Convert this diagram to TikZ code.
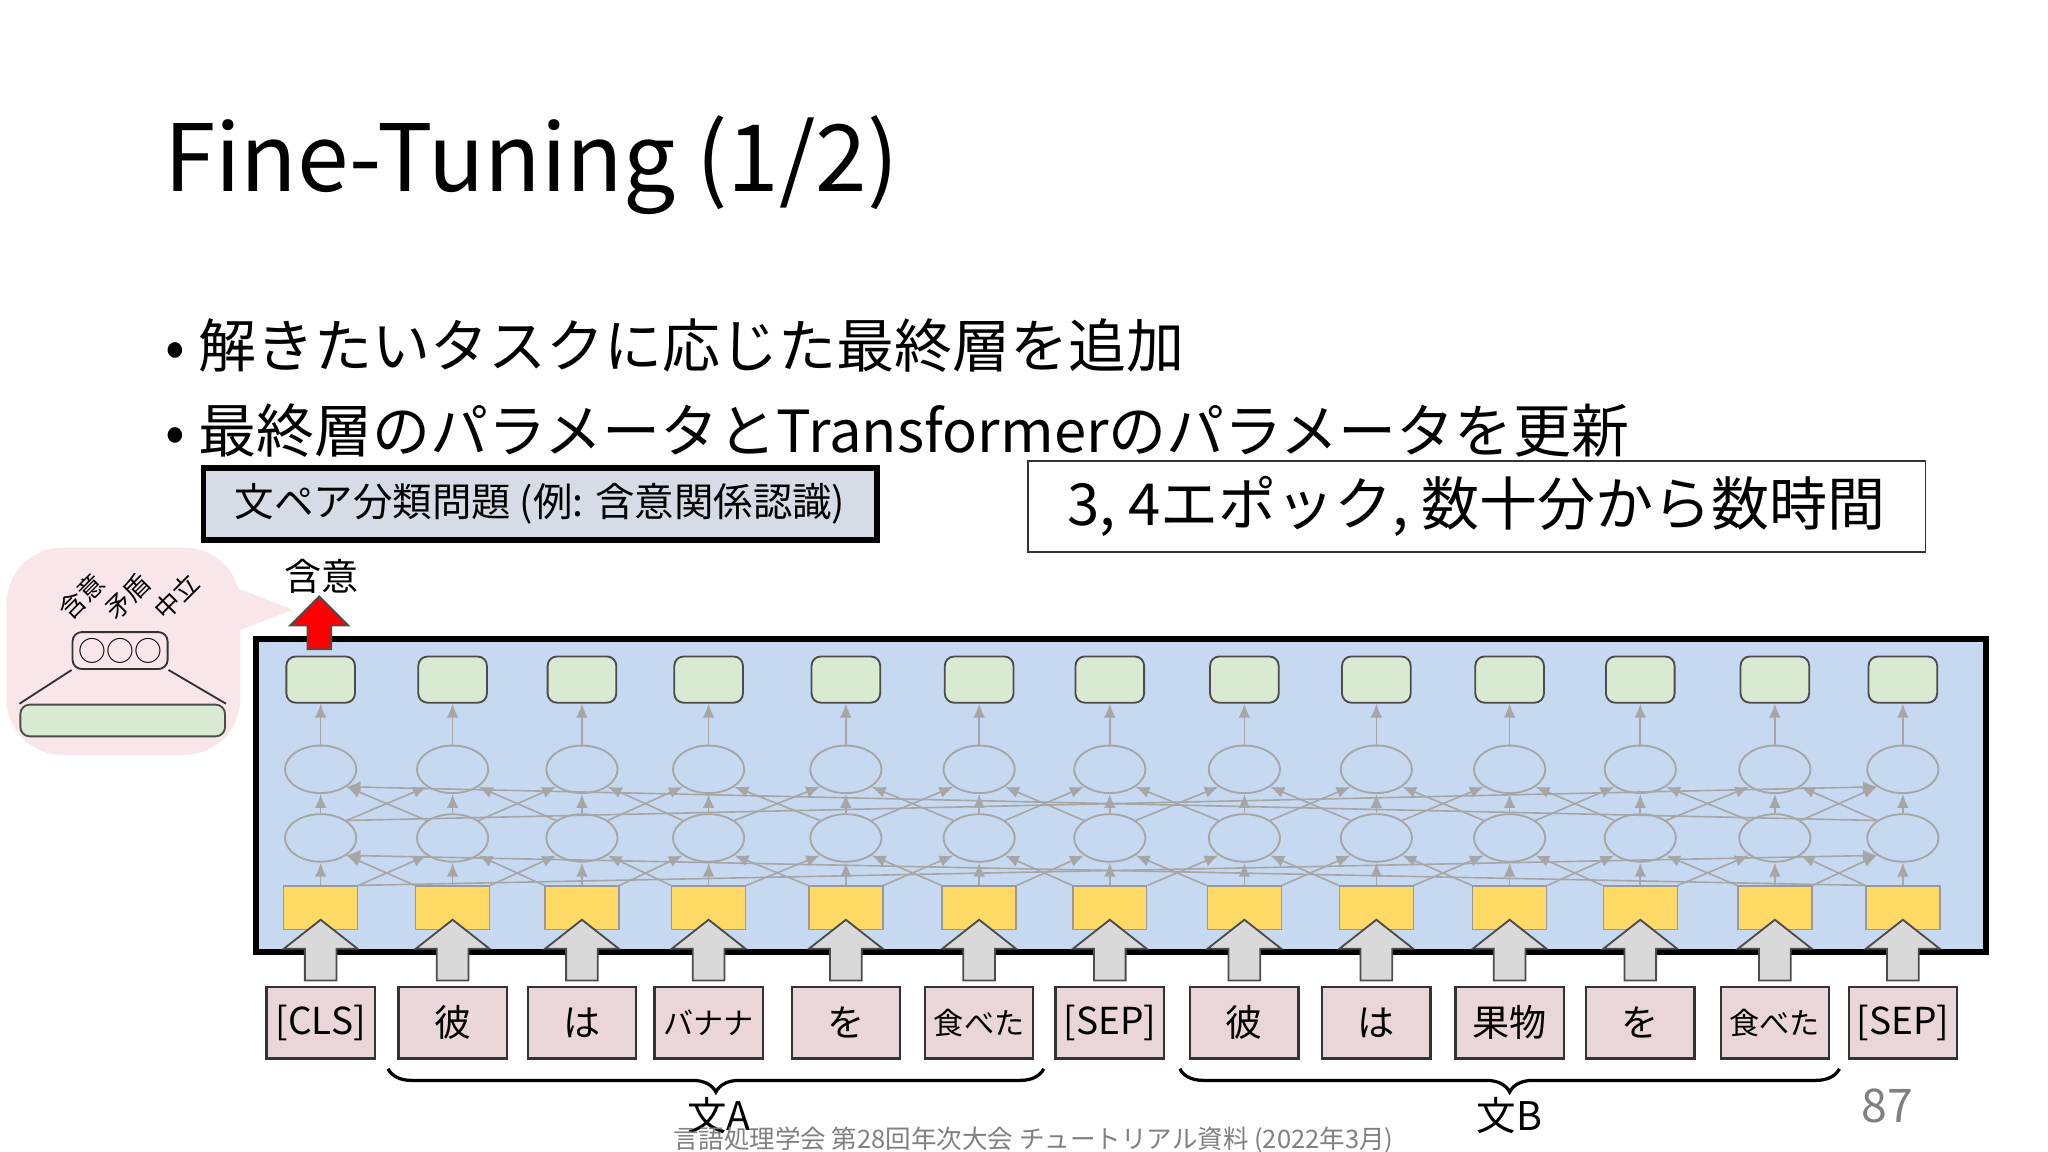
\documentclass[tikz,border=0pt]{standalone}
\usepackage{fontspec}
\setmainfont{Noto Sans CJK JP}
\usetikzlibrary{shapes.geometric,decorations.pathreplacing,arrows.meta,calc}
\definecolor{blk}{RGB}{198,217,241}
\definecolor{gr}{RGB}{217,234,211}
\definecolor{ye}{RGB}{255,217,102}
\definecolor{tk}{RGB}{234,214,216}
\definecolor{bb}{RGB}{249,230,232}
\definecolor{tb}{RGB}{214,220,229}
\begin{document}
\begin{tikzpicture}[x=0.01cm,y=-0.01cm,
 green/.style={draw=black!70,fill=gr,rounded corners=2pt,minimum width=0.52cm,minimum height=0.35cm,line width=0.4pt},
 yel/.style={draw=black!40,fill=ye,minimum width=0.56cm,minimum height=0.33cm,line width=0.3pt},
 ell/.style={draw=gray!70,ellipse,minimum width=0.54cm,minimum height=0.36cm,line width=0.4pt},
 tok/.style={draw=black!80,fill=tk,minimum width=0.82cm,minimum height=0.54cm,inner sep=1pt,font=\fontsize{8}{8}\selectfont,line width=0.5pt},
 uparrow/.style={draw=black!70,fill=black!15,line width=0.4pt},
 thin/.style={draw=gray!70,line width=0.35pt,-{Latex[length=3pt,width=2.5pt]}}]
\useasboundingbox (0,0) rectangle (1552,873);
\fill[white] (0,0) rectangle (1552,873);
\node[anchor=west,font=\fontsize{20}{20}\selectfont] (title) at (112,125) {Fine-Tuning (1/2)};
\node[anchor=west,font=\fontsize{12.5}{12.5}\selectfont] (b1) at (113,262) {• 解きたいタスクに応じた最終層を追加};
\node[anchor=west,font=\fontsize{12.5}{12.5}\selectfont] (b2) at (113,326) {• 最終層のパラメータとTransformerのパラメータを更新};
\node[draw=black,line width=1.2pt,fill=tb,anchor=west,font=\fontsize{8.5}{8.5}\selectfont,minimum width=5.1cm,minimum height=0.5cm] (task) at (152,382) {文ペア分類問題 (例: 含意関係認識)};
\node[draw=black!80,anchor=west,font=\fontsize{12.5}{12.5}\selectfont,minimum width=6.8cm,minimum height=0.64cm] (ep) at (778,384) {3, 4エポック, 数十分から数時間};
% bubble
\fill[bb,rounded corners=12pt] (5,415) rectangle (182,572);
\fill[bb] (165,440) -- (222,462) -- (175,480) -- cycle;
\node[green,minimum width=1.55cm,minimum height=0.24cm] (bfl) at (93,546) {};
\node[draw=black!80,rounded corners=2pt,fill=bb,minimum width=0.72cm,minimum height=0.28cm,inner sep=0pt,font=\fontsize{6}{6}\selectfont] (bo) at (91,493) {○○○};
\draw[black!80,line width=0.4pt] (bo.south west) -- (bfl.north west) (bo.south east) -- (bfl.north east);
\foreach \t/\x in {含意/62,矛盾/97,中立/134} \node[rotate=45,font=\fontsize{5.5}{5.5}\selectfont] at (\x,452) {\t};
% main block
\node[draw=black,line width=1.2pt,fill=blk,minimum width=13.1cm,minimum height=2.37cm,anchor=north west,inner sep=0pt] (blk) at (192,482) {};
\coordinate (ra) at (242,492);
\draw[draw=black!70,fill=red,line width=0.4pt] ($(ra)+(-9,0)$) -- ++(0,-18) -- ++(-13,0) -- ++(22,-22) -- ++(22,22) -- ++(-13,0) -- ++(0,18) -- cycle;
\node[font=\fontsize{8}{8}\selectfont] (lab) at (244,437) {含意};
\def\cols{243/{[CLS]},343/彼,441/は,537/バナナ,641/を,742/食べた,841/{[SEP]},943/彼,1043/は,1144/果物,1243/を,1345/食べた,1442/{[SEP]}}
\foreach[count=\i] \x/\t in \cols {
 \node[green] (g\i) at (\x,515) {};
 \node[ell] (e\i) at (\x,583) {};
 \node[ell] (f\i) at (\x,635) {};
 \node[yel] (y\i) at (\x,688) {};
 \node[tok] (t\i) at (\x,775) {\ifnum\i=4 \fontsize{6.5}{6.5}\selectfont\fi\ifnum\i=6 \fontsize{6.5}{6.5}\selectfont\fi\ifnum\i=12 \fontsize{6.5}{6.5}\selectfont\fi\t};
 \coordinate (u\i) at (\x,743);
 \draw[uparrow] ($(u\i)+(-12,0)$) -- ++(0,-24) -- ++(-16,0) -- ++(28,-22) -- ++(28,22) -- ++(-16,0) -- ++(0,24) -- cycle;
 \draw[thin] (e\i) -- (g\i);
 \draw[thin] (f\i) -- (e\i);
 \draw[thin] (y\i) -- (f\i);
}
\foreach \i/\j in {1/2,2/3,3/4,4/5,5/6,6/7,7/8,8/9,9/10,10/11,11/12,12/13} {
 \draw[thin] (f\i.north east) -- (e\j.south west);
 \draw[thin] (f\j.north west) -- (e\i.south east);
 \draw[thin] (y\i.north east) -- (f\j.south west);
 \draw[thin] (y\j.north west) -- (f\i.south east);
}
\draw[thin] (f1.north east) -- (e13.south west);
\draw[thin] (f13.north west) -- (e1.south east);
\draw[thin] (y1.north east) -- (f13.south west);
\draw[thin] (y13.north west) -- (f1.south east);
\draw[decorate,decoration={brace,mirror,amplitude=5pt},line width=0.7pt] ([xshift=-2pt,yshift=-2pt]t2.south west) -- ([xshift=2pt,yshift=-2pt]t6.south east);
\draw[decorate,decoration={brace,mirror,amplitude=5pt},line width=0.7pt] ([xshift=-2pt,yshift=-2pt]t8.south west) -- ([xshift=2pt,yshift=-2pt]t12.south east);
\node[font=\fontsize{8.5}{8.5}\selectfont] (sa) at (545,845) {文A};
\node[font=\fontsize{8.5}{8.5}\selectfont] (sb) at (1144,845) {文B};
\node[font=\fontsize{5.5}{5.5}\selectfont,text=gray] (ft) at (783,864) {言語処理学会 第28回年次大会 チュートリアル資料 (2022年3月)};
\node[font=\fontsize{10}{10}\selectfont,text=gray] (pg) at (1430,838) {87};
\end{tikzpicture}
\end{document}
